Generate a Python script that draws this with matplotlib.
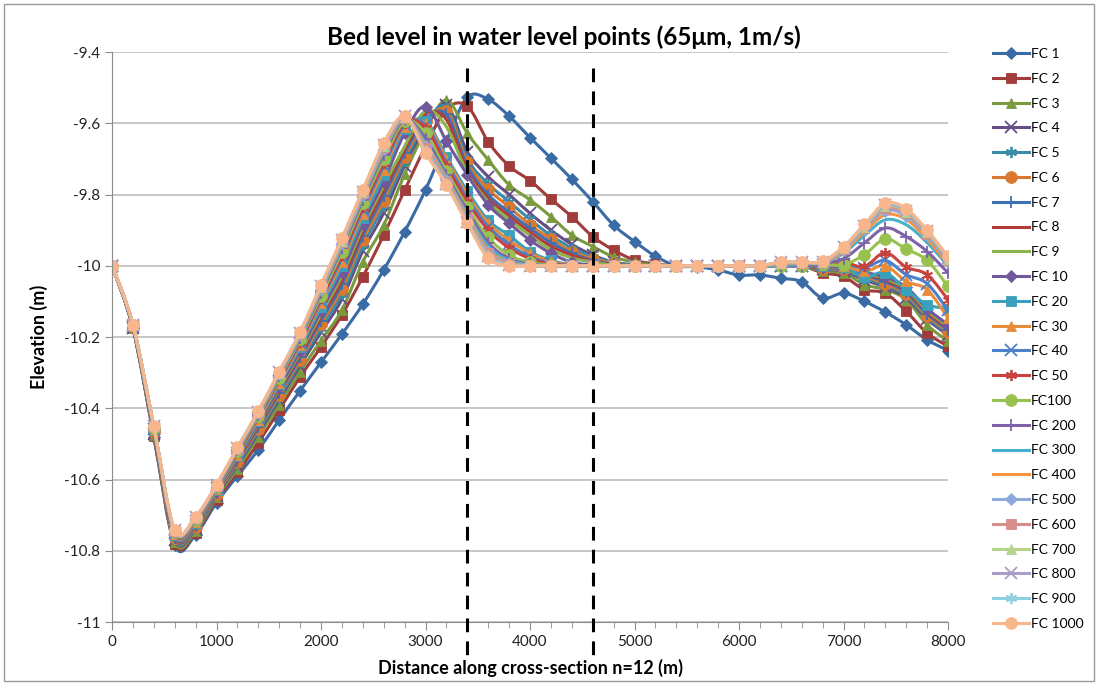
import numpy as np
import matplotlib
matplotlib.use("Agg")
import matplotlib.pyplot as plt
from matplotlib.patches import Rectangle, PathPatch
from matplotlib.path import Path
from matplotlib.lines import Line2D

plt.rcParams['font.family'] = ['Lato', 'DejaVu Sans']

# distance along the cross-section (m), every 200 m
dist = np.arange(0, 8001, 200)

fc1 = [-10.0, -10.175, -10.48, -10.785, -10.755, -10.665, -10.59, -10.517, -10.433, -10.351,
       -10.271, -10.192, -10.108, -10.012, -9.905, -9.787, -9.65, -9.527, -9.533, -9.58,
       -9.64, -9.698, -9.757, -9.82, -9.886, -9.932, -9.973, -10.0, -10.003, -10.012,
       -10.026, -10.026, -10.035, -10.045, -10.091, -10.077, -10.1, -10.13, -10.166, -10.208, -10.238]
fc2 = [-10.0, -10.175, -10.478, -10.78, -10.75, -10.657, -10.58, -10.497, -10.405, -10.312,
       -10.228, -10.138, -10.031, -9.914, -9.788, -9.665, -9.56, -9.552, -9.652, -9.72,
       -9.761, -9.813, -9.862, -9.918, -9.956, -9.984, -9.995, -10.0, -10.0, -10.0,
       -10.0, -10.0, -10.0, -10.0, -10.02, -10.03, -10.067, -10.077, -10.128, -10.189, -10.226]
fc3 = [-10.0, -10.175, -10.475, -10.775, -10.745, -10.65, -10.57, -10.48, -10.39, -10.297,
       -10.21, -10.124, -9.989, -9.886, -9.743, -9.62, -9.535, -9.628, -9.703, -9.773,
       -9.815, -9.862, -9.914, -9.946, -9.975, -9.99, -9.998, -10.0, -10.0, -10.0,
       -10.0, -10.0, -10.0, -10.0, -10.015, -10.02, -10.053, -10.067, -10.095, -10.166, -10.212]
fc4 = [-10.0, -10.174, -10.471, -10.77, -10.739, -10.645, -10.561, -10.469, -10.376, -10.28,
       -10.187, -10.094, -9.959, -9.852, -9.719, -9.61, -9.548, -9.68, -9.75, -9.8,
       -9.853, -9.9, -9.94, -9.97, -9.99, -9.998, -10.0, -10.0, -10.0, -10.0,
       -10.0, -10.0, -10.0, -10.0, -10.01, -10.015, -10.04, -10.06, -10.09, -10.15, -10.195]
fc5 = [-10.0, -10.173, -10.469, -10.767, -10.736, -10.642, -10.556, -10.463, -10.369, -10.271,
       -10.174, -10.078, -9.943, -9.833, -9.706, -9.6, -9.555, -9.7, -9.77, -9.82,
       -9.87, -9.915, -9.95, -9.975, -9.99, -9.998, -10.0, -10.0, -10.0, -10.0,
       -10.0, -10.0, -10.0, -10.0, -10.01, -10.012, -10.035, -10.055, -10.085, -10.145, -10.19]
fc6 = [-10.0, -10.172, -10.468, -10.765, -10.733, -10.64, -10.552, -10.458, -10.362, -10.264,
       -10.163, -10.064, -9.928, -9.817, -9.694, -9.595, -9.565, -9.71, -9.785, -9.835,
       -9.885, -9.925, -9.96, -9.98, -9.993, -10.0, -10.0, -10.0, -10.0, -10.0,
       -10.0, -10.0, -10.0, -10.0, -10.008, -10.01, -10.03, -10.05, -10.08, -10.14, -10.185]
fc7 = [-10.0, -10.171, -10.466, -10.763, -10.731, -10.637, -10.548, -10.454, -10.357, -10.257,
       -10.154, -10.052, -9.916, -9.803, -9.684, -9.59, -9.575, -9.72, -9.8, -9.85,
       -9.895, -9.935, -9.965, -9.985, -9.995, -10.0, -10.0, -10.0, -10.0, -10.0,
       -10.0, -10.0, -10.0, -10.0, -10.006, -10.008, -10.025, -10.045, -10.075, -10.135, -10.18]
fc8 = [-10.0, -10.171, -10.465, -10.761, -10.728, -10.635, -10.545, -10.45, -10.351, -10.25,
       -10.144, -10.04, -9.904, -9.789, -9.675, -9.575, -9.59, -9.73, -9.81, -9.86,
       -9.905, -9.945, -9.97, -9.988, -9.997, -10.0, -10.0, -10.0, -10.0, -10.0,
       -10.0, -10.0, -10.0, -10.0, -10.005, -10.006, -10.022, -10.04, -10.07, -10.13, -10.175]
fc9 = [-10.0, -10.17, -10.463, -10.759, -10.726, -10.633, -10.541, -10.445, -10.345, -10.244,
       -10.135, -10.028, -9.892, -9.776, -9.665, -9.565, -9.61, -9.74, -9.82, -9.87,
       -9.915, -9.955, -9.978, -9.99, -9.998, -10.0, -10.0, -10.0, -10.0, -10.0,
       -10.0, -10.0, -10.0, -10.0, -10.004, -10.005, -10.02, -10.036, -10.065, -10.125, -10.17]
fc10 = [-10.0, -10.17, -10.462, -10.758, -10.724, -10.631, -10.538, -10.442, -10.341, -10.238,
        -10.127, -10.017, -9.882, -9.764, -9.628, -9.553, -9.65, -9.745, -9.829, -9.881,
        -9.928, -9.965, -9.99, -9.998, -10.0, -10.0, -10.0, -10.0, -10.0, -10.0,
        -10.0, -10.0, -10.0, -10.0, -10.003, -10.004, -10.018, -10.032, -10.06, -10.12, -10.165]
fc20 = [-10.0, -10.169, -10.46, -10.755, -10.721, -10.629, -10.533, -10.436, -10.333, -10.229,
        -10.115, -10.001, -9.866, -9.746, -9.615, -9.593, -9.694, -9.79, -9.872, -9.915,
        -9.96, -9.985, -9.997, -10.0, -10.0, -10.0, -10.0, -10.0, -10.0, -10.0,
        -10.0, -10.0, -10.0, -10.0, -10.0, -10.003, -10.032, -10.019, -10.067, -10.109, -10.12]
fc30 = [-10.0, -10.168, -10.458, -10.753, -10.718, -10.627, -10.53, -10.432, -10.328, -10.223,
        -10.105, -9.989, -9.854, -9.732, -9.61, -9.6, -9.7, -9.8, -9.88, -9.928,
        -9.965, -9.988, -9.998, -10.0, -10.0, -10.0, -10.0, -10.0, -10.0, -10.0,
        -10.0, -10.0, -10.0, -10.0, -9.998, -10.0, -10.016, -10.0, -10.044, -10.067, -10.147]
fc40 = [-10.0, -10.168, -10.457, -10.751, -10.716, -10.625, -10.527, -10.428, -10.323, -10.217,
        -10.098, -9.979, -9.844, -9.72, -9.606, -9.605, -9.71, -9.81, -9.89, -9.94,
        -9.975, -9.992, -10.0, -10.0, -10.0, -10.0, -10.0, -10.0, -10.0, -10.0,
        -10.0, -10.0, -10.0, -10.0, -9.997, -9.995, -10.005, -9.985, -10.025, -10.05, -10.125]
fc50 = [-10.0, -10.167, -10.456, -10.75, -10.715, -10.623, -10.524, -10.425, -10.319, -10.213,
        -10.091, -9.971, -9.835, -9.711, -9.6, -9.612, -9.72, -9.82, -9.9, -9.95,
        -9.98, -9.995, -10.0, -10.0, -10.0, -10.0, -10.0, -10.0, -10.0, -10.0,
        -10.0, -10.0, -10.0, -10.0, -9.996, -9.99, -10.002, -9.963, -10.004, -10.025, -10.095]
fc100 = [-10.0, -10.167, -10.455, -10.748, -10.713, -10.622, -10.521, -10.422, -10.315, -10.207,
         -10.084, -9.961, -9.825, -9.7, -9.595, -9.628, -9.735, -9.835, -9.92, -9.97,
         -9.99, -9.998, -10.0, -10.0, -10.0, -10.0, -10.0, -10.0, -10.0, -10.0,
         -10.0, -10.0, -10.0, -10.0, -9.995, -9.997, -9.969, -9.925, -9.953, -9.985, -10.058]
fc200 = [-10.0, -10.166, -10.454, -10.747, -10.711, -10.62, -10.518, -10.418, -10.31, -10.202,
         -10.076, -9.951, -9.815, -9.688, -9.59, -9.643, -9.745, -9.845, -9.935, -9.98,
         -9.995, -10.0, -10.0, -10.0, -10.0, -10.0, -10.0, -10.0, -10.0, -10.0,
         -10.0, -10.0, -10.0, -10.0, -9.993, -9.98, -9.936, -9.894, -9.918, -9.96, -10.02]
fc300 = [-10.0, -10.166, -10.453, -10.746, -10.709, -10.619, -10.517, -10.416, -10.307, -10.198,
         -10.071, -9.945, -9.809, -9.681, -9.588, -9.655, -9.75, -9.855, -9.945, -9.985,
         -9.997, -10.0, -10.0, -10.0, -10.0, -10.0, -10.0, -10.0, -10.0, -10.0,
         -10.0, -10.0, -10.0, -9.995, -9.992, -9.965, -9.915, -9.871, -9.885, -9.935, -10.0]
fc400 = [-10.0, -10.166, -10.452, -10.745, -10.708, -10.618, -10.515, -10.414, -10.305, -10.195,
         -10.067, -9.94, -9.804, -9.676, -9.586, -9.66, -9.755, -9.86, -9.955, -9.99,
         -10.0, -10.0, -10.0, -10.0, -10.0, -10.0, -10.0, -10.0, -10.0, -10.0,
         -10.0, -10.0, -9.995, -9.993, -9.991, -9.96, -9.905, -9.857, -9.87, -9.925, -9.995]
fc500 = [-10.0, -10.166, -10.452, -10.744, -10.708, -10.617, -10.514, -10.413, -10.303, -10.193,
         -10.064, -9.936, -9.8, -9.671, -9.585, -9.665, -9.76, -9.865, -9.96, -9.993,
         -10.0, -10.0, -10.0, -10.0, -10.0, -10.0, -10.0, -10.0, -10.0, -10.0,
         -10.0, -10.0, -9.993, -9.992, -9.99, -9.955, -9.898, -9.845, -9.86, -9.915, -9.99]
fc600 = [-10.0, -10.166, -10.451, -10.744, -10.707, -10.617, -10.513, -10.412, -10.302, -10.192,
         -10.062, -9.933, -9.797, -9.668, -9.584, -9.67, -9.765, -9.87, -9.965, -9.995,
         -10.0, -10.0, -10.0, -10.0, -10.0, -10.0, -10.0, -10.0, -10.0, -10.0,
         -10.0, -10.0, -9.992, -9.991, -9.99, -9.952, -9.894, -9.838, -9.853, -9.91, -9.985]
fc700 = [-10.0, -10.165, -10.451, -10.743, -10.706, -10.616, -10.512, -10.411, -10.3, -10.19,
         -10.059, -9.93, -9.794, -9.664, -9.582, -9.675, -9.768, -9.873, -9.97, -9.997,
         -10.0, -10.0, -10.0, -10.0, -10.0, -10.0, -10.0, -10.0, -10.0, -10.0,
         -10.0, -10.0, -9.991, -9.99, -9.989, -9.95, -9.89, -9.833, -9.848, -9.906, -9.98]
fc800 = [-10.0, -10.165, -10.451, -10.743, -10.706, -10.616, -10.512, -10.41, -10.299, -10.189,
         -10.058, -9.928, -9.792, -9.662, -9.581, -9.678, -9.77, -9.876, -9.973, -9.998,
         -10.0, -10.0, -10.0, -10.0, -10.0, -10.0, -10.0, -10.0, -10.0, -10.0,
         -10.0, -10.0, -9.99, -9.99, -9.989, -9.948, -9.888, -9.83, -9.845, -9.903, -9.978]
fc900 = [-10.0, -10.165, -10.45, -10.742, -10.705, -10.615, -10.511, -10.409, -10.298, -10.187,
         -10.056, -9.925, -9.789, -9.659, -9.58, -9.681, -9.772, -9.879, -9.976, -9.999,
         -10.0, -10.0, -10.0, -10.0, -10.0, -10.0, -10.0, -10.0, -10.0, -10.0,
         -10.0, -10.0, -9.99, -9.99, -9.988, -9.947, -9.887, -9.827, -9.843, -9.901, -9.976]
fc1000 = [-10.0, -10.165, -10.45, -10.742, -10.705, -10.615, -10.51, -10.408, -10.297, -10.186,
          -10.054, -9.923, -9.787, -9.656, -9.58, -9.684, -9.773, -9.881, -9.979, -10.0,
          -10.0, -10.0, -10.0, -10.0, -10.0, -10.0, -10.0, -10.0, -10.0, -10.0,
          -10.0, -10.0, -9.99, -9.99, -9.988, -9.946, -9.884, -9.824, -9.84, -9.9, -9.974]

labels = ['FC 1', 'FC 2', 'FC 3', 'FC 4', 'FC 5', 'FC 6', 'FC 7', 'FC 8', 'FC 9', 'FC 10',
          'FC 20', 'FC 30', 'FC 40', 'FC 50', 'FC100', 'FC 200', 'FC 300', 'FC 400',
          'FC 500', 'FC 600', 'FC 700', 'FC 800', 'FC 900', 'FC 1000']
series = [fc1, fc2, fc3, fc4, fc5, fc6, fc7, fc8, fc9, fc10, fc20, fc30, fc40, fc50,
          fc100, fc200, fc300, fc400, fc500, fc600, fc700, fc800, fc900, fc1000]

# dashed section markers (m)
sections = [3400, 4600]

colors = ['#3A6BA5', '#A03D3A', '#7A9A3E', '#654E85', '#3A8CA6', '#D9782F',
          '#3F70B5', '#B23E3A', '#8CB347', '#71589A', '#3AA0BB', '#E88B3A',
          '#4C80C8', '#C8433F', '#98C150', '#7E63A9', '#47B0CB', '#F59340',
          '#8EA9DB', '#D78D8B', '#B5D38A', '#AB9BC9', '#8FCFE0', '#F9B58B']
ASTER = (6, 2, 0)
markers = ['D', 's', '^', 'x', ASTER, 'o', '+', None, None,
           'D', 's', '^', 'x', ASTER, 'o', '+', None, None,
           'D', 's', '^', 'x', ASTER, 'o']


def msize(m):
    if m == 'D':
        return 6.5
    if m == 'o':
        return 8.5
    if m in ('x', '+') or m == ASTER:
        return 8
    return 7.5


def smooth_path(x, y):
    # cubic Bezier segments through every point (smoothed line)
    p = np.column_stack([x, y]).astype(float)
    pp = np.vstack([p[0], p, p[-1]])
    verts = [p[0]]
    codes = [Path.MOVETO]
    for i in range(len(p) - 1):
        c1 = pp[i + 1] + (pp[i + 2] - pp[i]) / 6.0
        c2 = pp[i + 2] - (pp[i + 3] - pp[i + 1]) / 6.0
        verts += [c1, c2, p[i + 1]]
        codes += [Path.CURVE4] * 3
    return Path(verts, codes)


fig = plt.figure(figsize=(10.98, 6.83), dpi=100)
ax = fig.add_axes([112 / 1098, 1 - 622 / 683, (948 - 112) / 1098, (622 - 52) / 683])

handles = []
for k, (ys, lab, c, m) in enumerate(zip(series, labels, colors, markers)):
    z = 2 + k * 0.01
    ax.add_patch(PathPatch(smooth_path(dist, ys), fill=False, edgecolor=c,
                           lw=2.2, joinstyle='round', capstyle='round', zorder=z))
    kw = dict(color=c, lw=2.2, label=lab)
    if m is not None:
        mk = dict(marker=m, markersize=msize(m), markerfacecolor=c, markeredgecolor=c,
                  markeredgewidth=1.3 if m in ('x', '+') or m == ASTER else 0.6)
        ax.plot(dist, ys, linestyle='none', zorder=z + 0.005, **mk)
        kw.update(mk)
    handles.append(Line2D([], [], **kw))

for s in sections:
    ax.plot([s, s], [-9.445, -11.107], color='black', lw=2.2,
            dashes=(4.5, 3), clip_on=False, zorder=5)

ax.set_xlim(0, 8000)
ax.set_ylim(-11, -9.4)
ax.set_xticks(np.arange(0, 8001, 1000))
ax.set_xticks(np.arange(0, 8001, 200), minor=True)
ax.set_yticks(np.arange(-11, -9.39, 0.2))
ax.set_yticklabels(['-11', '-10.8', '-10.6', '-10.4', '-10.2', '-10',
                    '-9.8', '-9.6', '-9.4'])
ax.yaxis.grid(True, color='#BDBDBD', lw=1.2)
ax.set_axisbelow(True)
for sp in ['top', 'right']:
    ax.spines[sp].set_visible(False)
for sp in ['left', 'bottom']:
    ax.spines[sp].set_color('#8C8C8C')
ax.tick_params(axis='both', which='both', colors='#8C8C8C', labelcolor='#222222',
               labelsize=11, direction='out')
ax.tick_params(axis='x', which='major', length=6)
ax.tick_params(axis='x', which='minor', length=4)
ax.tick_params(axis='y', length=5)

ax.set_title('Bed level in water level points (65\u03bcm, 1m/s)', fontsize=17.5,
             fontweight='bold', pad=5, x=0.54)
ax.set_xlabel('Distance along cross-section n=12 (m)', fontsize=13,
              fontweight='bold', labelpad=7)
ax.set_ylabel('Elevation (m)', fontsize=13, fontweight='bold', labelpad=12)

fig.legend(handles=handles, loc='upper left', bbox_to_anchor=(993 / 1098, 1 - 48 / 683),
           frameon=False, fontsize=10, labelspacing=0.92, handlelength=2.6,
           handletextpad=0.15, borderaxespad=0, borderpad=0)

fig.patches.append(Rectangle((4 / 1098, 2 / 683), 1090 / 1098, 677 / 683,
                             transform=fig.transFigure, fill=False,
                             edgecolor='#9A9A9A', lw=1))

fig.savefig('out.png', dpi=100)
